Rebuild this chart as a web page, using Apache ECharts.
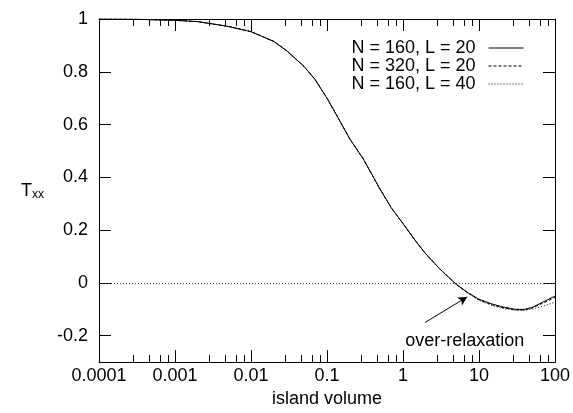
<!DOCTYPE html>
<html>
<head>
<meta charset="utf-8">
<script src="https://cdn.jsdelivr.net/npm/echarts@6/dist/echarts.min.js"></script>
<style>
	html, body { margin: 0; padding: 0; background: #fff; }
	#chart { width: 573px; height: 413px; }
</style>
</head>
<body>
<div id="chart"></div>
<script>
var volume = [0.0001, 0.0003, 0.001, 0.002, 0.005, 0.01, 0.02, 0.03, 0.05, 0.07, 0.1, 0.15, 0.2, 0.3, 0.5, 0.7, 1, 1.5, 2, 3, 5, 7, 10, 15, 20, 30, 40, 50, 70, 100]
var n160L20 = [1.0, 0.999, 0.995, 0.99, 0.972, 0.952, 0.915, 0.878, 0.82, 0.77, 0.70, 0.61, 0.545, 0.47, 0.355, 0.285, 0.225, 0.155, 0.11, 0.055, -0.005, -0.035, -0.062, -0.08, -0.09, -0.1, -0.1, -0.093, -0.072, -0.05]
var n320L20 = [1.0, 0.999, 0.995, 0.99, 0.972, 0.952, 0.915, 0.878, 0.82, 0.77, 0.70, 0.61, 0.545, 0.47, 0.355, 0.285, 0.225, 0.155, 0.11, 0.055, -0.005, -0.036, -0.064, -0.083, -0.093, -0.102, -0.102, -0.095, -0.076, -0.055]
var n160L40 = [1.0, 0.999, 0.995, 0.99, 0.972, 0.952, 0.915, 0.878, 0.82, 0.77, 0.70, 0.61, 0.545, 0.47, 0.355, 0.285, 0.225, 0.155, 0.11, 0.055, -0.005, -0.037, -0.066, -0.086, -0.096, -0.104, -0.104, -0.099, -0.088, -0.073]
var seriesNames = ['N = 160, L = 20', 'N = 320, L = 20', 'N = 160, L = 40']
var yTicks = [-0.2, 0, 0.2, 0.4, 0.6, 0.8, 1]

var font = 'Liberation Sans, Arial, Helvetica, sans-serif'

function pairs(ys) {
	return volume.map(function (x, i) { return [x, ys[i]] })
}

var myChart = echarts.init(document.getElementById('chart'))

// gnuplot style frame: ticks point inward on all four sides
function frameAxis(extra) {
	return Object.assign({
		axisLine: { show: true, onZero: false, lineStyle: { color: '#000', width: 1 } },
		axisTick: { show: true, inside: true, length: 12, lineStyle: { color: '#000', width: 1 } },
		splitLine: { show: false }
	}, extra)
}

myChart.setOption({
	animation: false,
	backgroundColor: '#fff',
	grid: { left: 99, right: 18, top: 19, bottom: 48 },
	legend: {
		orient: 'vertical',
		right: 44,
		top: 34,
		align: 'right',
		itemWidth: 35,
		itemHeight: 9,
		itemGap: 0,
		itemStyle: { opacity: 0 },
		lineStyle: { width: 1 },
		textStyle: { fontFamily: font, fontSize: 18, lineHeight: 17, color: '#000', padding: [0, 8, 0, 0] },
		data: seriesNames
	},
	xAxis: [
		frameAxis({
			type: 'log',
			logBase: 10,
			min: 0.0001,
			max: 100,
			name: 'island volume',
			nameLocation: 'middle',
			nameGap: 24,
			nameTextStyle: { fontFamily: font, fontSize: 18, color: '#000' },
			minorTick: { show: true, length: 7, lineStyle: { color: '#000', width: 1 } },
			axisLabel: {
				fontFamily: font, fontSize: 18, color: '#000', margin: 5,
				formatter: function (v) { return String(+Number(v).toPrecision(1)) }
			}
		}),
		frameAxis({
			type: 'log',
			logBase: 10,
			min: 0.0001,
			max: 100,
			position: 'top',
			minorTick: { show: true, length: 7, lineStyle: { color: '#000', width: 1 } },
			axisLabel: { show: false }
		})
	],
	yAxis: [
		frameAxis({
			type: 'value',
			min: -0.3,
			max: 1,
			name: '{t|T}{s|xx}',
			nameLocation: 'middle',
			nameRotate: 0,
			nameGap: 55,
			nameTextStyle: {
				fontFamily: font, color: '#000',
				rich: {
					t: { fontFamily: font, fontSize: 18, color: '#000' },
					s: { fontFamily: font, fontSize: 12, color: '#000', padding: [9, 0, 0, 0] }
				}
			},
			axisTick: { show: true, inside: true, length: 12, customValues: yTicks, lineStyle: { color: '#000', width: 1 } },
			axisLabel: { fontFamily: font, fontSize: 18, color: '#000', margin: 11, customValues: yTicks }
		}),
		frameAxis({
			type: 'value',
			min: -0.3,
			max: 1,
			position: 'right',
			axisTick: { show: true, inside: true, length: 12, customValues: yTicks, lineStyle: { color: '#000', width: 1 } },
			axisLabel: { show: false, customValues: yTicks }
		})
	],
	series: [
		{
			name: seriesNames[0],
			type: 'line',
			symbol: 'none',
			data: pairs(n160L20),
			lineStyle: { color: '#000', width: 1, type: 'solid' },
			itemStyle: { color: '#000' },
			markLine: {
				silent: true,
				symbol: 'none',
				label: { show: false },
				lineStyle: { color: '#444', width: 1, type: [1, 2] },
				data: [{ yAxis: 0 }]
			}
		},
		{
			name: seriesNames[1],
			type: 'line',
			symbol: 'none',
			data: pairs(n320L20),
			lineStyle: { color: '#000', width: 1, type: [3, 2] },
			itemStyle: { color: '#000' }
		},
		{
			name: seriesNames[2],
			type: 'line',
			symbol: 'none',
			data: pairs(n160L40),
			lineStyle: { color: '#000', width: 1, type: [1, 2] },
			itemStyle: { color: '#000' },
			markLine: {
				silent: true,
				symbol: ['none', 'arrow'],
				symbolSize: [7, 9],
				label: { show: false },
				lineStyle: { color: '#000', width: 1, type: 'solid' },
				data: [[{ coord: [1.95, -0.15] }, { coord: [7, -0.053] }]]
			},
			markPoint: {
				silent: true,
				symbol: 'circle',
				symbolSize: 0,
				label: {
					show: true,
					position: 'inside',
					formatter: 'over-relaxation',
					fontFamily: font,
					fontSize: 18,
					color: '#000'
				},
				data: [{ coord: [6.5, -0.22] }]
			}
		}
	]
})
</script>
</body>
</html>
